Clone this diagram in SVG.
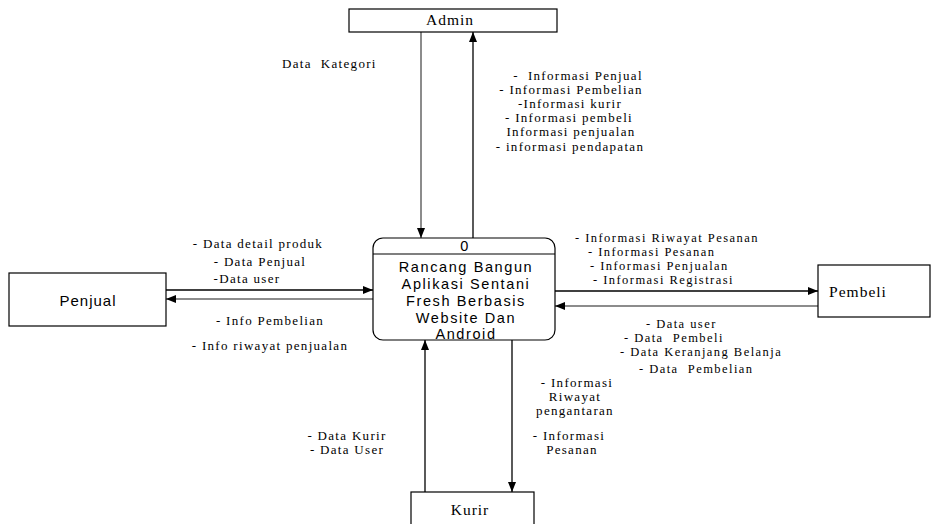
<svg xmlns="http://www.w3.org/2000/svg" width="931" height="524" viewBox="0 0 931 524">
<defs>
<marker id="ah" viewBox="0 0 10 10" refX="10" refY="5" markerWidth="10" markerHeight="10" markerUnits="userSpaceOnUse" orient="auto">
<path d="M0,1 L10,5 L0,9 Z" fill="#000"/>
</marker>
</defs>
<style>
.box{fill:#fff;stroke:#000;stroke-width:1.2}
.ent{font-family:"Liberation Serif",serif;font-size:15.5px;letter-spacing:1px;fill:#000;text-anchor:middle}
.ents{font-family:"Liberation Sans",sans-serif;font-size:15px;letter-spacing:1px;fill:#000;text-anchor:middle}
.proc{font-family:"Liberation Sans",sans-serif;font-size:14.5px;letter-spacing:1.6px;fill:#000;text-anchor:middle}
.lbl{font-family:"Liberation Serif",serif;font-size:13px;letter-spacing:1.3px;fill:#000;white-space:pre}
.sm{font-size:12.5px;letter-spacing:1.45px}
.m{text-anchor:middle}
.fl{fill:none;stroke:#000;stroke-width:1.3;marker-end:url(#ah)}
.fg{fill:none;stroke:#666;stroke-width:1.5;marker-end:url(#ah)}
</style>
<rect width="931" height="524" fill="#fff"/>
<g id="connectors">
<line class="fg" x1="421" y1="32" x2="421" y2="238"/>
<line class="fl" x1="473" y1="238" x2="473" y2="32"/>
<line class="fl" x1="166" y1="290" x2="373" y2="290"/>
<line class="fg" x1="373" y1="299" x2="166" y2="299"/>
<line class="fl" x1="555" y1="291" x2="818" y2="291"/>
<line class="fg" x1="818" y1="306" x2="555" y2="306"/>
<line class="fl" x1="425" y1="492" x2="425" y2="340"/>
<line class="fl" x1="512" y1="340" x2="512" y2="492"/>
</g>
<g id="labels">
<text class="lbl" x="282" y="68">Data  Kategori</text>
<text class="lbl m" x="578" y="80">-  Informasi Penjual</text>
<text class="lbl m" x="571" y="94">- Informasi Pembelian</text>
<text class="lbl m" x="570" y="108">-Informasi kurir</text>
<text class="lbl m" x="569" y="122">- Informasi pembeli</text>
<text class="lbl m" x="571" y="136">Informasi penjualan</text>
<text class="lbl m" x="570" y="151">- informasi pendapatan</text>
<text class="lbl m" x="258" y="248">- Data detail produk</text>
<text class="lbl m" x="260" y="266">- Data Penjual</text>
<text class="lbl m" x="247" y="283">-Data user</text>
<text class="lbl m" x="270" y="325">- Info Pembelian</text>
<text class="lbl m" x="270" y="350">- Info riwayat penjualan</text>
<text class="lbl sm" x="575" y="242">- Informasi Riwayat Pesanan</text>
<text class="lbl sm" x="588" y="256">- Informasi Pesanan</text>
<text class="lbl sm" x="590" y="270">- Informasi Penjualan</text>
<text class="lbl sm" x="593" y="284">- Informasi Registrasi</text>
<text class="lbl sm" x="646" y="328">- Data user</text>
<text class="lbl sm" x="624" y="342">- Data  Pembeli</text>
<text class="lbl sm" x="620" y="356">- Data Keranjang Belanja</text>
<text class="lbl sm" x="639" y="373">- Data  Pembelian</text>
<text class="lbl m" x="577" y="387">- Informasi</text>
<text class="lbl m" x="575" y="401">Riwayat</text>
<text class="lbl m" x="575" y="415">pengantaran</text>
<text class="lbl m" x="569" y="440">- Informasi</text>
<text class="lbl m" x="572" y="454">Pesanan</text>
<text class="lbl m" x="347" y="440">- Data Kurir</text>
<text class="lbl m" x="347" y="454">- Data User</text>
</g>
<g id="admin">
<rect class="box" x="349" y="9" width="208" height="23"/>
<text class="ent" x="450" y="25">Admin</text>
</g>
<g id="process">
<rect class="box" x="373" y="238" width="182" height="102" rx="10" ry="10"/>
<line x1="373" y1="254" x2="555" y2="254" stroke="#000" stroke-width="1.2"/>
<text class="proc" x="465" y="251">0</text>
<text class="proc" x="466" y="272">Rancang Bangun</text>
<text class="proc" x="466" y="289">Aplikasi Sentani</text>
<text class="proc" x="466" y="306">Fresh Berbasis</text>
<text class="proc" x="466" y="323">Website Dan</text>
<text class="proc" x="466" y="339">Android</text>
</g>
<g id="penjual">
<rect class="box" x="9" y="273" width="157" height="53"/>
<text class="ents" x="88" y="306">Penjual</text>
</g>
<g id="pembeli">
<rect class="box" x="818" y="265" width="112" height="52"/>
<text class="ent" x="858" y="297">Pembeli</text>
</g>
<g id="kurir">
<rect class="box" x="411" y="492" width="123" height="40"/>
<text class="ent" x="470" y="515">Kurir</text>
</g>
</svg>
